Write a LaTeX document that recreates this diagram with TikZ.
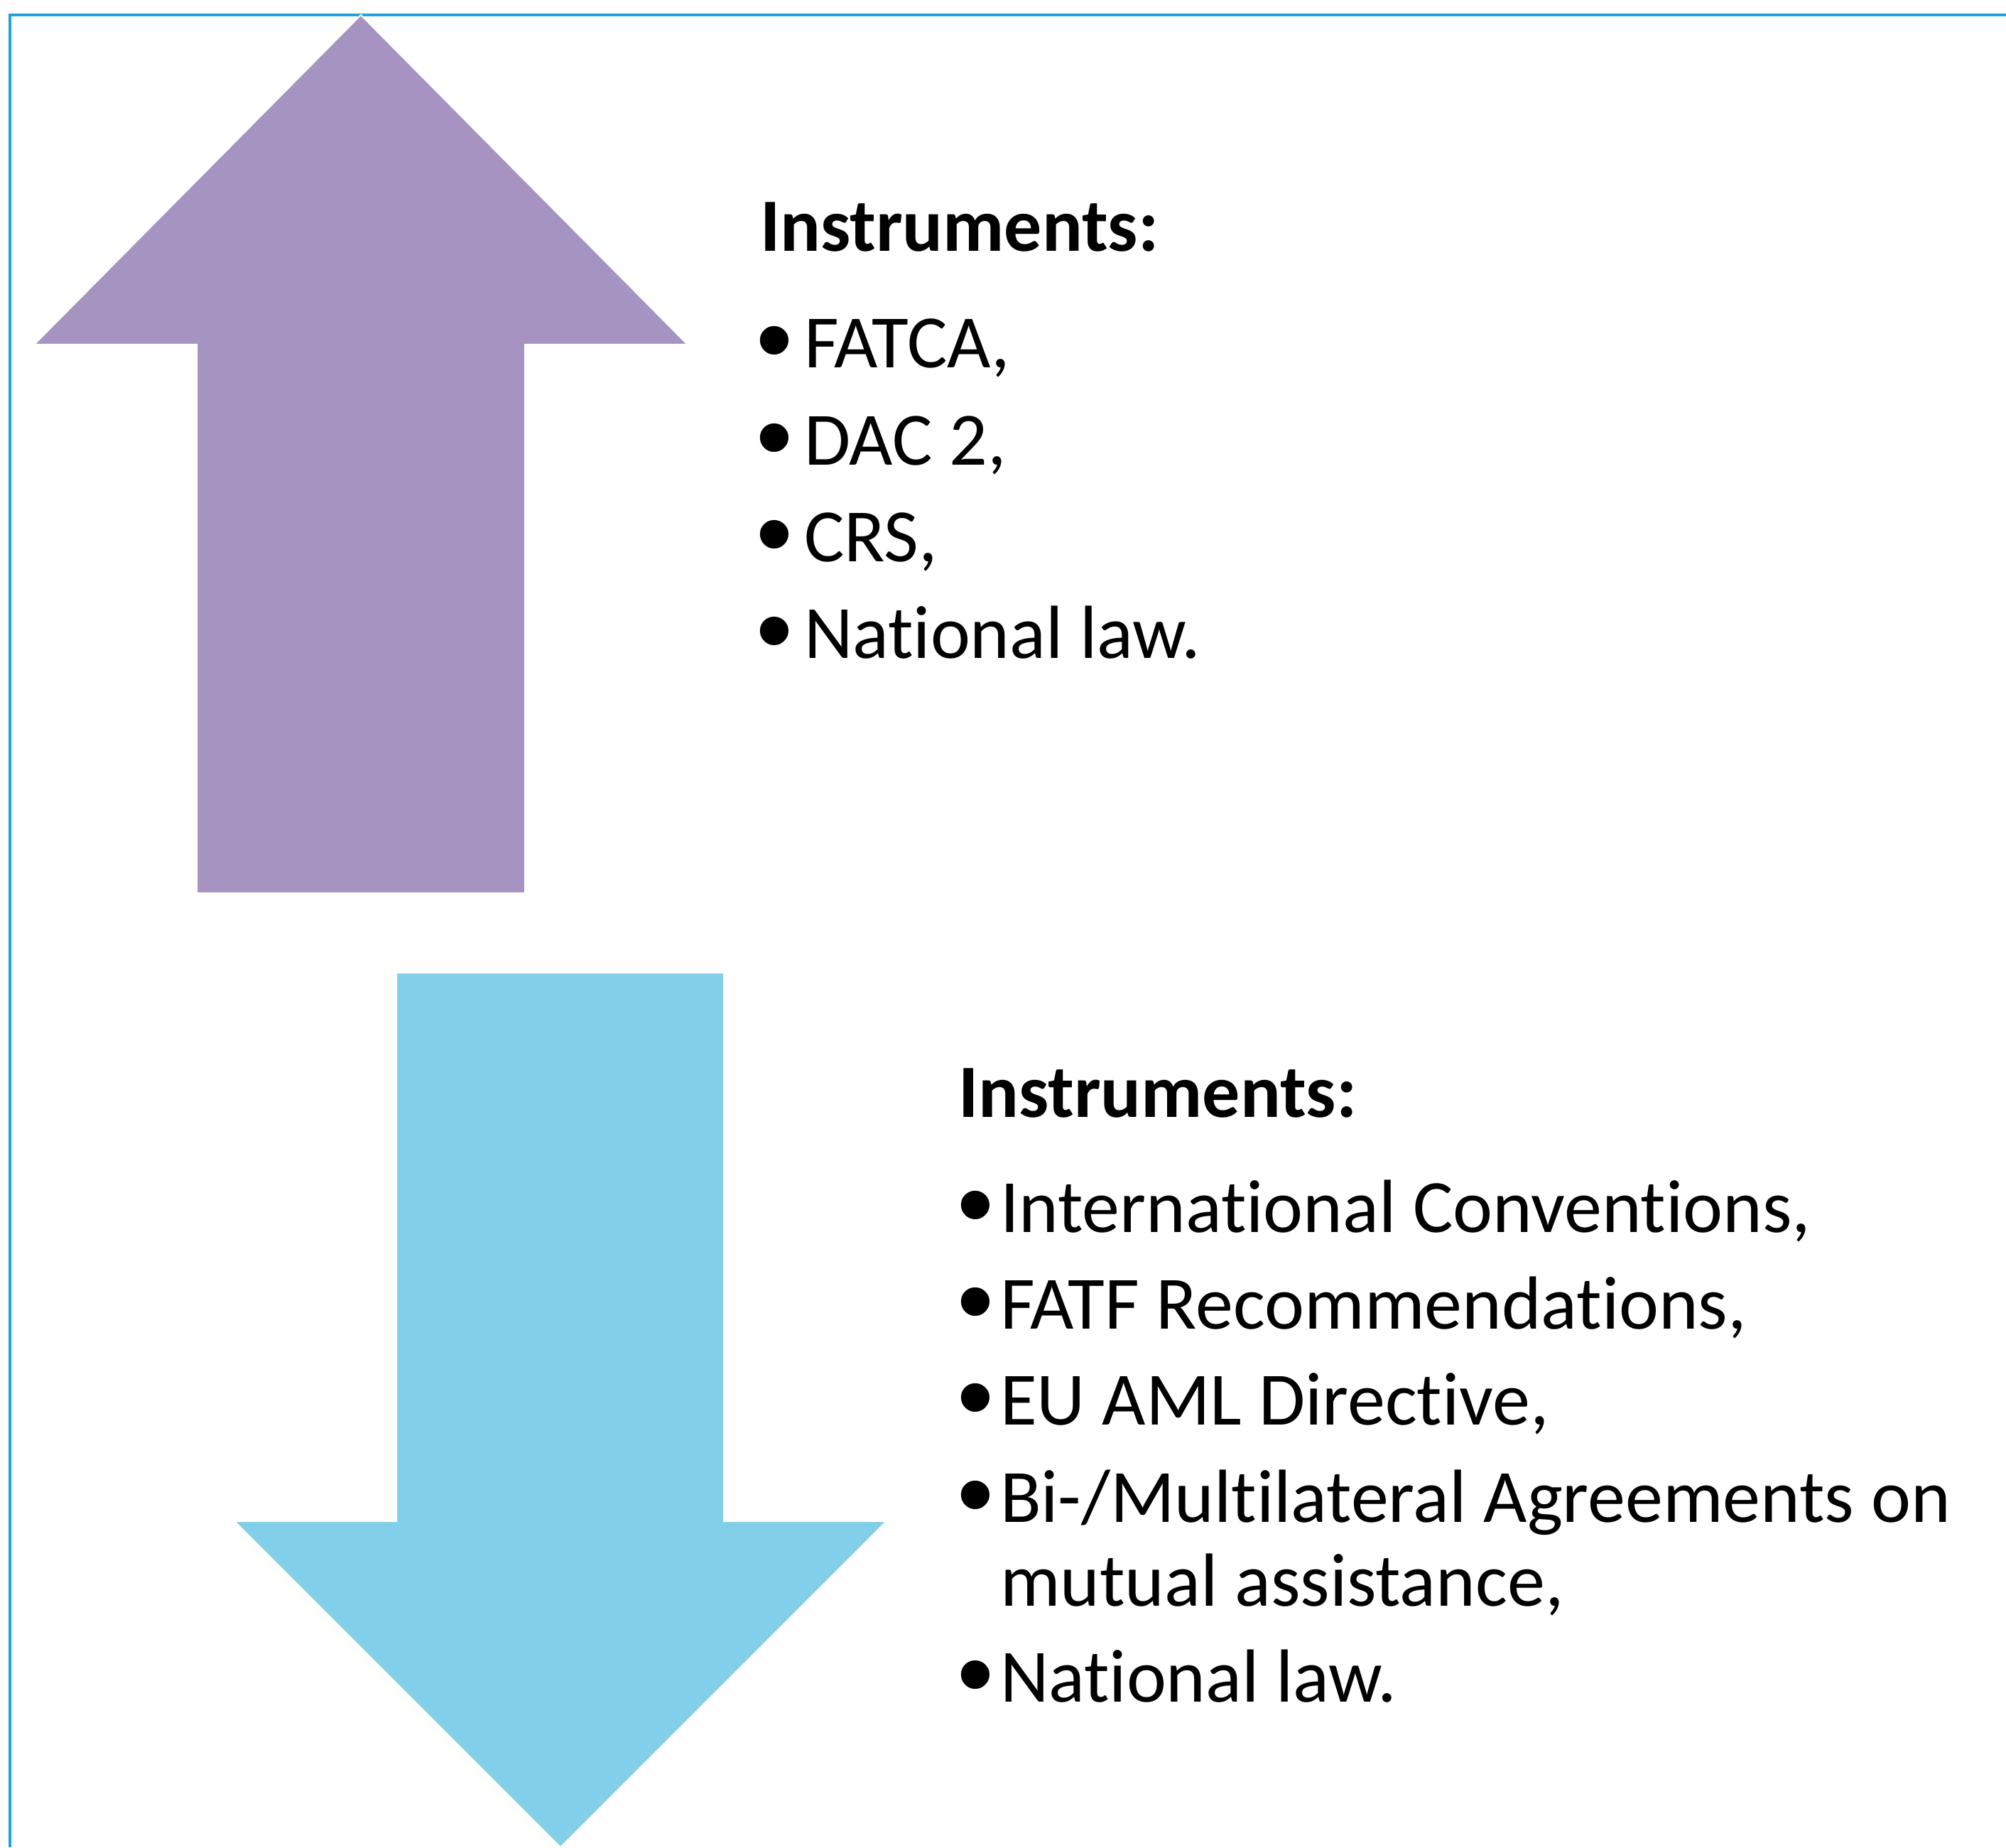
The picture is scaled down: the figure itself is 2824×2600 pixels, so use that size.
\documentclass[tikz,border=0pt]{standalone}
\usepackage{fontspec}
\setmainfont{Carlito}[Ligatures={NoCommon,NoContextual}]
\newfontfamily\bulletfont{Liberation Sans}
\definecolor{framecol}{RGB}{31,163,222}
\definecolor{purplearrow}{RGB}{166,147,193}
\definecolor{bluearrow}{RGB}{129,207,232}
\begin{document}
\begin{tikzpicture}[x=0.25pt,y=-0.25pt,
  txt/.style={anchor=base west,inner sep=0pt,outer sep=0pt,font=\fontsize{26.5}{32}\selectfont},
  head/.style={txt,font=\fontsize{26.5}{32}\selectfont\bfseries},
  bul/.style={anchor=base,inner sep=0pt,outer sep=0pt,font=\fontsize{37}{40}\selectfont\bulletfont},
  arrowshape/.style={draw=white,line width=0.5pt}]
\useasboundingbox (0,0) rectangle (2824,2600);
\fill[white] (0,0) rectangle (2824,2600);
% frame lines
\draw[framecol,line width=0.8pt] (2824,21) -- (14,21) -- (14,2600);
% purple up arrow
\path[arrowshape,fill=purplearrow] (508,21) -- (968,485) -- (739,485) -- (739,1257) -- (277,1257) -- (277,485) -- (48,485) -- cycle;
% blue down arrow
\path[arrowshape,fill=bluearrow] (558,1369) -- (1019,1369) -- (1019,2141) -- (1248,2141) -- (789,2600) -- (330,2141) -- (558,2141) -- cycle;
% upper text block
\node[head] (h1) at (1070,354) {Instruments:};
\node[bul] (b11) at (1090,528) {•};
\node[txt] (t11) at (1132,517) {FATCA,};
\node[bul] (b12) at (1090,665) {•};
\node[txt] (t12) at (1132,654) {DAC 2,};
\node[bul] (b13) at (1090,801) {•};
\node[txt] (t13) at (1132,790) {CRS,};
\node[bul] (b14) at (1090,937) {•};
\node[txt] (t14) at (1132,926) {National law.};
% lower text block
\node[head] (h2) at (1349,1572) {Instruments:};
\node[bul] (b21) at (1373,1745) {•};
\node[txt] (t21) at (1408,1734) {International Conventions,};
\node[bul] (b22) at (1373,1881) {•};
\node[txt] (t22) at (1408,1870) {FATF Recommendations,};
\node[bul] (b23) at (1373,2016) {•};
\node[txt] (t23) at (1408,2005) {EU AML Directive,};
\node[bul] (b24) at (1373,2153) {•};
\node[txt] (t24) at (1408,2142) {Bi-/Multilateral Agreements on};
\node[txt] (t25) at (1408,2260) {mutual assistance,};
\node[bul] (b26) at (1373,2406) {•};
\node[txt] (t26) at (1408,2395) {National law.};
\end{tikzpicture}
\end{document}
